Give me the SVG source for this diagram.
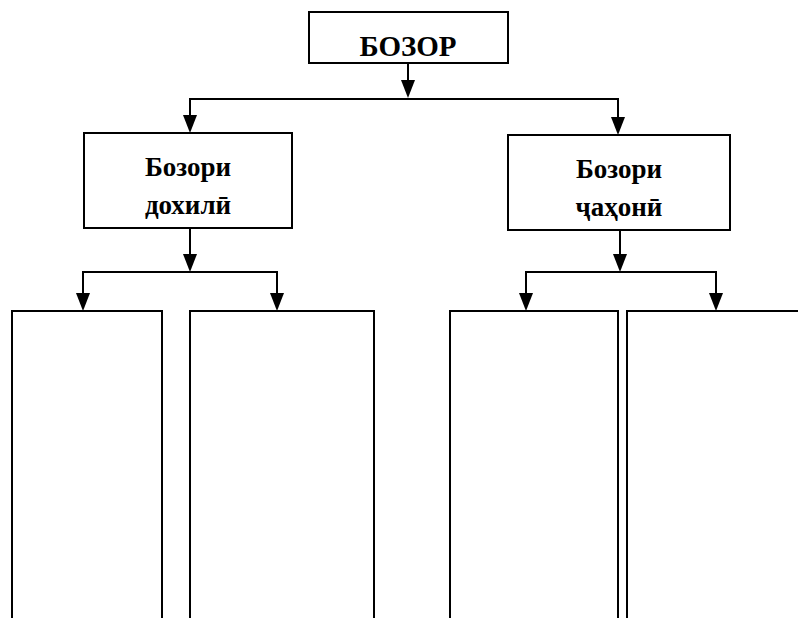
<svg xmlns="http://www.w3.org/2000/svg" width="798" height="618" viewBox="0 0 798 618">
<style>
.box{fill:#fff;stroke:#000;stroke-width:2}
.ln{fill:none;stroke:#000;stroke-width:2}
.ah{fill:#000}
.t{font-family:"Liberation Serif","DejaVu Serif",serif;font-weight:bold;fill:#000;text-anchor:middle}
</style>
<g id="connectors">
<path class="ln" d="M408,63 V80"/>
<path class="ah" d="M401,80 L415,80 L408,98 Z"/>
<path class="ln" d="M190,117 V99 H618 V117"/>
<path class="ah" d="M183,115 L197,115 L190,133 Z"/>
<path class="ah" d="M611,117 L625,117 L618,135 Z"/>
<path class="ln" d="M190,228 V254"/>
<path class="ah" d="M183,254 L197,254 L190,272 Z"/>
<path class="ln" d="M83,295 V272 H277 V295"/>
<path class="ah" d="M76,293 L90,293 L83,311 Z"/>
<path class="ah" d="M270,293 L284,293 L277,311 Z"/>
<path class="ln" d="M620,230 V254"/>
<path class="ah" d="M613,254 L627,254 L620,272 Z"/>
<path class="ln" d="M526,295 V272 H716 V295"/>
<path class="ah" d="M519,293 L533,293 L526,311 Z"/>
<path class="ah" d="M709,293 L723,293 L716,311 Z"/>
</g>
<g id="bozor">
<rect class="box" x="309" y="12" width="199" height="51"/>
<text class="t" x="408" y="56" font-size="29">БОЗОР</text>
</g>
<g id="dokhili">
<rect class="box" x="84" y="133" width="208" height="95"/>
<text class="t" x="188" y="176" font-size="27">Бозори</text>
<text class="t" x="188" y="214" font-size="27">дохилӣ</text>
</g>
<g id="jahoni">
<rect class="box" x="508" y="135" width="222" height="95"/>
<text class="t" x="619" y="178" font-size="27">Бозори</text>
<text class="t" x="619" y="216" font-size="27">ҷаҳонӣ</text>
</g>
<g id="sub1"><path class="ln" d="M12,620 V311 H162 V620"/></g>
<g id="sub2"><path class="ln" d="M190,620 V311 H374 V620"/></g>
<g id="sub3"><path class="ln" d="M450,620 V311 H618 V620"/></g>
<g id="sub4"><path class="ln" d="M627,620 V311 H800"/></g>
</svg>
